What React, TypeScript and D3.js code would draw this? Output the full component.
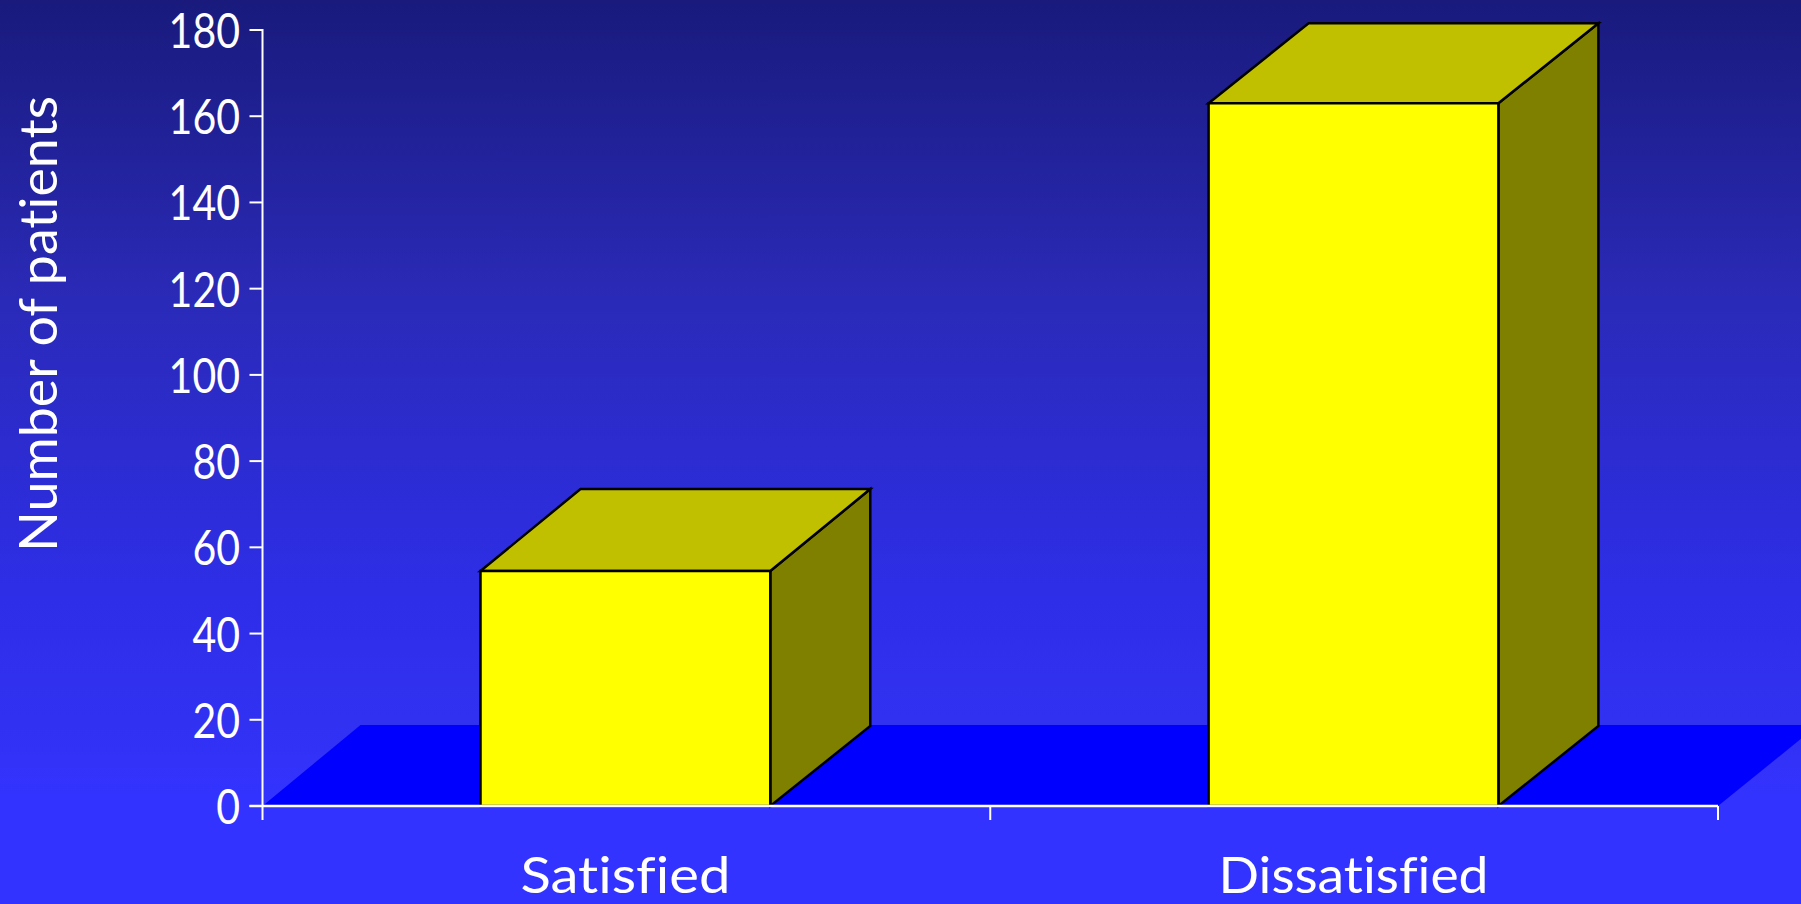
import React from "react";
import * as d3 from "d3";

const categories = ["Satisfied", "Dissatisfied"];
const values = [54.5, 163];
const topDepths = [82, 80];
const yTicks = [0, 20, 40, 60, 80, 100, 120, 140, 160, 180];
const yTitle = "Number of patients";

const W = 1801;
const H = 904;
const FONT = "'Comic Sans MS', 'Comic Sans', Lato, 'Open Sans', sans-serif";
const DX = 100;
const DY = 80;
const AXIS_L = 262.5;
const AXIS_R = 1718;

export default function App() {
  const x = d3.scaleBand<string>().domain(categories).range([261.7, 1717.2]).paddingInner(0.602).paddingOuter(0.3005);
  const y = d3.scaleLinear().domain([0, 180]).range([806, 30]);
  const y0 = y(0);
  const line = d3.line();
  const poly = (p: [number, number][]) => line(p) + "Z";
  const mid = (AXIS_L + AXIS_R) / 2;

  return (
    <svg width={W} height={H} viewBox={`0 0 ${W} ${H}`} style={{ position: "fixed", left: 0, top: 0, display: "block" }}>
      <defs>
        <linearGradient id="bg" x1="0" y1="0" x2="0" y2="1">
          <stop offset="0" stopColor="#191a7c" />
          <stop offset="0.33" stopColor="#2a2ab8" />
          <stop offset="0.66" stopColor="#2e2ee8" />
          <stop offset="0.8" stopColor="#3131f2" />
          <stop offset="0.88" stopColor="#3333ff" />
          <stop offset="1" stopColor="#3333ff" />
        </linearGradient>
      </defs>
      <rect width={W} height={H} fill="url(#bg)" />
      <path
        d={poly([[AXIS_L, y0], [AXIS_L + DX - 2, y0 - DY - 1], [AXIS_R + DX, y0 - DY - 1], [AXIS_R, y0]])}
        fill="#0000ff"
      />
      {categories.map((c, i) => {
        const l = x(c)!;
        const r = l + x.bandwidth();
        const t = y(values[i]);
        const back = t - topDepths[i];
        return (
          <g key={c} stroke="#000" strokeWidth={2.5} strokeLinejoin="miter">
            <path d={poly([[r, t], [r + DX, back], [r + DX, y0 - DY], [r, y0]])} fill="#808000" />
            <path d={poly([[l, t], [l + DX, back], [r + DX, back], [r, t]])} fill="#c0c000" />
            <path d={poly([[l, t], [r, t], [r, y0], [l, y0]])} fill="#ffff00" />
          </g>
        );
      })}
      <g stroke="#fff" strokeWidth={2} fill="none">
        <line x1={AXIS_L} x2={AXIS_L} y1={y(180) - 1} y2={y0 + 14} />
        <line x1={AXIS_L - 13} x2={AXIS_R} y1={y0} y2={y0} strokeWidth={2.5} />
        {yTicks.map((t) => (
          <line key={t} x1={AXIS_L - 13} x2={AXIS_L} y1={y(t)} y2={y(t)} />
        ))}
        {[mid, AXIS_R].map((v) => (
          <line key={v} x1={v} x2={v} y1={y0} y2={y0 + 14} />
        ))}
      </g>
      <g fill="#fff" fontFamily={FONT} style={{ fontVariantLigatures: "none" }}>
        {yTicks.map((t) => {
          const s = String(t);
          return (
            <text key={t} x={240} y={y(t) + 18} fontSize={48} textAnchor="end" textLength={s.length * 23.8} lengthAdjust="spacingAndGlyphs">
              {s}
            </text>
          );
        })}
        {categories.map((c, i) => (
          <text
            key={c}
            x={x(c)! + x.bandwidth() / 2}
            y={893}
            fontSize={50}
            textAnchor="middle"
            textLength={i === 0 ? 210 : 270}
            lengthAdjust="spacingAndGlyphs"
          >
            {c}
          </text>
        ))}
        <text
          transform={`translate(57,324) rotate(-90)`}
          fontSize={52}
          textAnchor="middle"
          textLength={456}
          lengthAdjust="spacingAndGlyphs"
        >
          {yTitle}
        </text>
      </g>
    </svg>
  );
}
